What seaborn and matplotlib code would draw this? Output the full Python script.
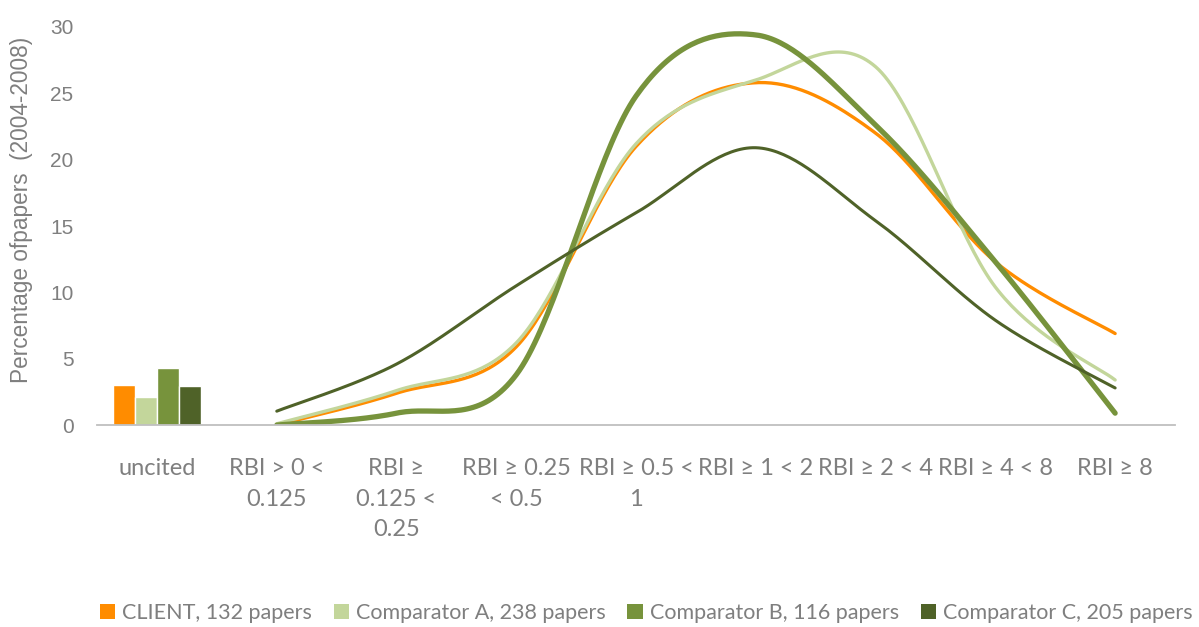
import matplotlib
matplotlib.use("Agg")
import matplotlib.pyplot as plt
import numpy as np
import pandas as pd
import seaborn as sns
from matplotlib.patches import Patch

# categories on the x axis
categories = ["uncited", "RBI > 0 <\n0.125", "RBI ≥\n0.125 <\n0.25", "RBI ≥ 0.25\n< 0.5",
              "RBI ≥ 0.5 <\n1", "RBI ≥ 1 < 2", "RBI ≥ 2 < 4", "RBI ≥ 4 < 8", "RBI ≥ 8"]
series_names = ["CLIENT, 132 papers", "Comparator A, 238 papers",
                "Comparator B, 116 papers", "Comparator C, 205 papers"]

# uncited share (bars)
uncited_vals = [3.0, 2.1, 4.3, 2.95]

# cited classes (smoothed lines), one list per series
client_vals = [0.0, 2.4, 5.9, 21.0, 25.8, 22.0, 12.3, 6.9]
comp_a_vals = [0.1, 2.6, 6.2, 21.2, 26.0, 27.0, 10.4, 3.4]
comp_b_vals = [0.0, 0.9, 3.8, 24.8, 29.4, 22.6, 12.3, 0.9]
comp_c_vals = [1.05, 4.6, 10.5, 16.0, 20.9, 15.4, 7.9, 2.8]

colors = ["#FF8C00", "#C3D69B", "#77933C", "#4F6228"]
widths = [2.4, 2.4, 3.8, 2.2]


def smooth(xs, ys, n=40):
    """Excel-like smoothed line (cardinal spline through the points)."""
    xs = np.asarray(xs, float)
    ys = np.asarray(ys, float)
    px = np.concatenate([[xs[0]], xs, [xs[-1]]])
    py = np.concatenate([[ys[0]], ys, [ys[-1]]])
    out_x, out_y = [], []
    t = np.linspace(0, 1, n)
    for i in range(1, len(px) - 2):
        p0 = np.array([px[i], py[i]])
        p3 = np.array([px[i + 1], py[i + 1]])
        c1 = p0 + (np.array([px[i + 1], py[i + 1]]) - np.array([px[i - 1], py[i - 1]])) / 6
        c2 = p3 - (np.array([px[i + 2], py[i + 2]]) - np.array([px[i], py[i]])) / 6
        b = ((1 - t) ** 3)[:, None] * p0 + (3 * (1 - t) ** 2 * t)[:, None] * c1 \
            + (3 * (1 - t) * t ** 2)[:, None] * c2 + (t ** 3)[:, None] * p3
        out_x.extend(b[:, 0])
        out_y.extend(b[:, 1])
    return np.array(out_x), np.array(out_y)


sns.set_style("white")
plt.rcParams["font.family"] = ["Liberation Sans", "DejaVu Sans"]
humanist = ["Lato", "DejaVu Sans"]
grey = "#7F7F7F"

fig = plt.figure(figsize=(11.99, 6.27), dpi=100)
ax = fig.add_axes([0.081, 0.322, 0.899, 0.635])

bars = pd.DataFrame({"category": ["uncited"] * 4, "series": series_names,
                     "value": uncited_vals})
sns.barplot(data=bars, x="category", y="value", hue="series", order=categories,
            hue_order=series_names, palette=colors, width=0.735, gap=0,
            saturation=1, legend=False, ax=ax)

line_x = np.arange(1, len(categories))
for name, vals, c, lw in zip(series_names,
                             [client_vals, comp_a_vals, comp_b_vals, comp_c_vals],
                             colors, widths):
    sx, sy = smooth(line_x, vals)
    sns.lineplot(x=sx, y=sy, color=c, linewidth=lw, sort=False,
                 estimator=None, ax=ax, solid_capstyle="round")

ax.set_xlim(-0.5, len(categories) - 0.5)
ax.set_ylim(0, 30)
ax.set_yticks(range(0, 31, 5))
ax.set_xticks(range(len(categories)))
ax.set_xticklabels(categories, family=humanist, fontsize=17, color=grey,
                   linespacing=1.55, va="top")
ax.tick_params(axis="x", length=0, pad=24)
ax.tick_params(axis="y", length=0, pad=17, labelsize=15, labelcolor=grey)
ax.set_xlabel("")
ax.set_ylabel("")
for side in ["top", "right", "left"]:
    ax.spines[side].set_visible(False)
ax.spines["bottom"].set_color("#BFBFBF")
ax.spines["bottom"].set_linewidth(1.3)
ax.grid(False)

fig.text(0.018, 0.665, "Percentage ofpapers  (2004-2008)", rotation=90,
         ha="center", va="center", fontsize=16.3, color=grey)

handles = [Patch(facecolor=c, edgecolor="none") for c in colors]
fig.legend(handles, series_names, loc="center", bbox_to_anchor=(0.539, 0.022),
           ncol=4, frameon=False, prop={"family": humanist, "size": 15.5},
           labelcolor=grey, handlelength=0.7, handleheight=0.7,
           handletextpad=0.35, columnspacing=1.0)

fig.savefig("out.png", dpi=100)
